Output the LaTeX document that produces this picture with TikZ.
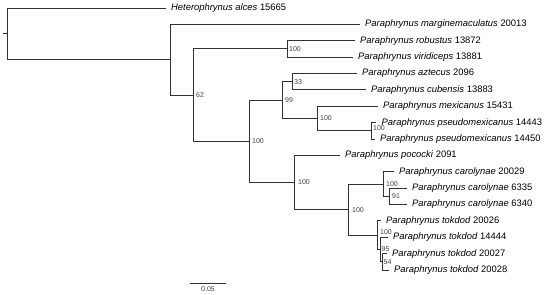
\documentclass[tikz,border=0pt]{standalone}
\usepackage{fontspec}
\setmainfont{Liberation Sans}
\usepackage{tikz}
\usetikzlibrary{positioning}
\colorlet{branchGray}{black!80}
\colorlet{supportGray}{black!75}
\tikzset{
  branch/.style={draw=branchGray, line width=1pt},
  taxon/.style={inner sep=0pt, font=\fontsize{9.4}{11}\selectfont},
  support/.style={inner sep=0pt, text=supportGray, font=\fontsize{7}{8}\selectfont},
}

\begin{document}
\begin{tikzpicture}[x=1pt, y=-1pt]
        \useasboundingbox (0,0) rectangle (550,295);
        % inner nodes of the tree
        \coordinate (stub) at (3,33.9);
        \coordinate (root) at (7,33.9);
        \coordinate (n1) at (170,59.75);
        \coordinate (n62) at (193,95.1);
        \coordinate (nRob) at (287,48.9);
        \coordinate (n249) at (249,141.3);
        \coordinate (n99) at (282,100.1);
        \coordinate (nAzt) at (292,81.7);
        \coordinate (nMex) at (317,118.5);
        \coordinate (nPs) at (371,130.8);
        \coordinate (n294) at (294,182.5);
        \coordinate (n348) at (348,209.6);
        \coordinate (nCar) at (383,184);
        \coordinate (nCarB) at (389,196.3);
        \coordinate (nTokA) at (377,235.2);
        \coordinate (nTokB) at (380,249.5);
        \coordinate (nTokC) at (382,261.8);
        % tips
        \coordinate (het) at (165.5,8);
        \coordinate (marg) at (359.5,24.4);
        \coordinate (rob) at (354.5,40.75);
        \coordinate (vir) at (352.5,57.1);
        \coordinate (azt) at (356.5,73.5);
        \coordinate (cub) at (365.5,89.9);
        \coordinate (mex) at (377.5,106.25);
        \coordinate (psA) at (376,122.6);
        \coordinate (psB) at (374.5,139);
        \coordinate (poc) at (339.5,155.4);
        \coordinate (carA) at (393.5,171.75);
        \coordinate (carB) at (406.5,188.1);
        \coordinate (carC) at (406.5,204.5);
        \coordinate (tokA) at (380.5,220.9);
        \coordinate (tokB) at (387.5,237.25);
        \coordinate (tokC) at (386.5,253.6);
        \coordinate (tokD) at (388.5,270);

        % branches
        \draw[branch] (stub) -- (root);
        \draw[branch] (root) |- (het);
        \draw[branch] (root) |- (n1);
        \draw[branch] (n1) |- (marg);
        \draw[branch] (n1) |- (n62);
        \draw[branch] (n62) |- (nRob);
        \draw[branch] (n62) |- (n249);
        \draw[branch] (nRob) |- (rob);
        \draw[branch] (nRob) |- (vir);
        \draw[branch] (n249) |- (n99);
        \draw[branch] (n249) |- (n294);
        \draw[branch] (n99) |- (nAzt);
        \draw[branch] (n99) |- (nMex);
        \draw[branch] (nAzt) |- (azt);
        \draw[branch] (nAzt) |- (cub);
        \draw[branch] (nMex) |- (mex);
        \draw[branch] (nMex) |- (nPs);
        \draw[branch] (nPs) |- (psA);
        \draw[branch] (nPs) |- (psB);
        \draw[branch] (n294) |- (poc);
        \draw[branch] (n294) |- (n348);
        \draw[branch] (n348) |- (nCar);
        \draw[branch] (n348) |- (nTokA);
        \draw[branch] (nCar) |- (carA);
        \draw[branch] (nCar) |- (nCarB);
        \draw[branch] (nCarB) |- (carB);
        \draw[branch] (nCarB) |- (carC);
        \draw[branch] (nTokA) |- (tokA);
        \draw[branch] (nTokA) |- (nTokB);
        \draw[branch] (nTokB) |- (tokB);
        \draw[branch] (nTokB) |- (nTokC);
        \draw[branch] (nTokC) |- (tokC);
        \draw[branch] (nTokC) |- (tokD);

        % taxon labels
        \node[taxon, right=5.5pt of het] (hetL) {\textit{Heterophrynus alces} 15665};
        \node[taxon, right=5.5pt of marg] (margL) {\textit{Paraphrynus marginemaculatus} 20013};
        \node[taxon, right=5.5pt of rob] (robL) {\textit{Paraphrynus robustus} 13872};
        \node[taxon, right=5.5pt of vir] (virL) {\textit{Paraphrynus viridiceps} 13881};
        \node[taxon, right=5.5pt of azt] (aztL) {\textit{Paraphrynus aztecus} 2096};
        \node[taxon, right=5.5pt of cub] (cubL) {\textit{Paraphrynus cubensis} 13883};
        \node[taxon, right=5.5pt of mex] (mexL) {\textit{Paraphrynus mexicanus} 15431};
        \node[taxon, right=5.5pt of psA] (psAL) {\textit{Paraphrynus pseudomexicanus} 14443};
        \node[taxon, right=5.5pt of psB] (psBL) {\textit{Paraphrynus pseudomexicanus} 14450};
        \node[taxon, right=5.5pt of poc] (pocL) {\textit{Paraphrynus pococki} 2091};
        \node[taxon, right=5.5pt of carA] (carAL) {\textit{Paraphrynus carolynae} 20029};
        \node[taxon, right=5.5pt of carB] (carBL) {\textit{Paraphrynus carolynae} 6335};
        \node[taxon, right=5.5pt of carC] (carCL) {\textit{Paraphrynus carolynae} 6340};
        \node[taxon, right=5.5pt of tokA] (tokAL) {\textit{Paraphrynus tokdod} 20026};
        \node[taxon, right=5.5pt of tokB] (tokBL) {\textit{Paraphrynus tokdod} 14444};
        \node[taxon, right=5.5pt of tokC] (tokCL) {\textit{Paraphrynus tokdod} 20027};
        \node[taxon, right=5.5pt of tokD] (tokDL) {\textit{Paraphrynus tokdod} 20028};

        % support values
        \node[support, right=3pt of n62] (s62) {62};
        \node[support, right=2pt of nRob] (sRob) {100};
        \node[support, right=3pt of n249] (s249) {100};
        \node[support, right=3pt of n99] (s99) {99};
        \node[support, right=2pt of nAzt] (sAzt) {33};
        \node[support, right=3pt of nMex] (sMex) {100};
        \node[support, right=2pt of nPs, yshift=2.5pt] (sPs) {100};
        \node[support, right=4pt of n294] (s294) {100};
        \node[support, right=4pt of n348] (s348) {100};
        \node[support, right=3pt of nCar] (sCar) {100};
        \node[support, right=3pt of nCarB] (sCarB) {91};
        \node[support, right=3pt of nTokA, yshift=3pt] (sTokA) {100};
        \node[support, right=1.5pt of nTokB] (sTokB) {95};
        \node[support, right=1.5pt of nTokC] (sTokC) {54};

        % scale bar
        \coordinate (bar1) at (190,283);
        \coordinate (bar2) at (226,283);
        \coordinate (barMid) at (208,283);
        \draw[branch] (bar1) -- (bar2);
        \node[support, below=3pt of barMid] (barL) {0.05};
    \end{tikzpicture}
\end{document}
